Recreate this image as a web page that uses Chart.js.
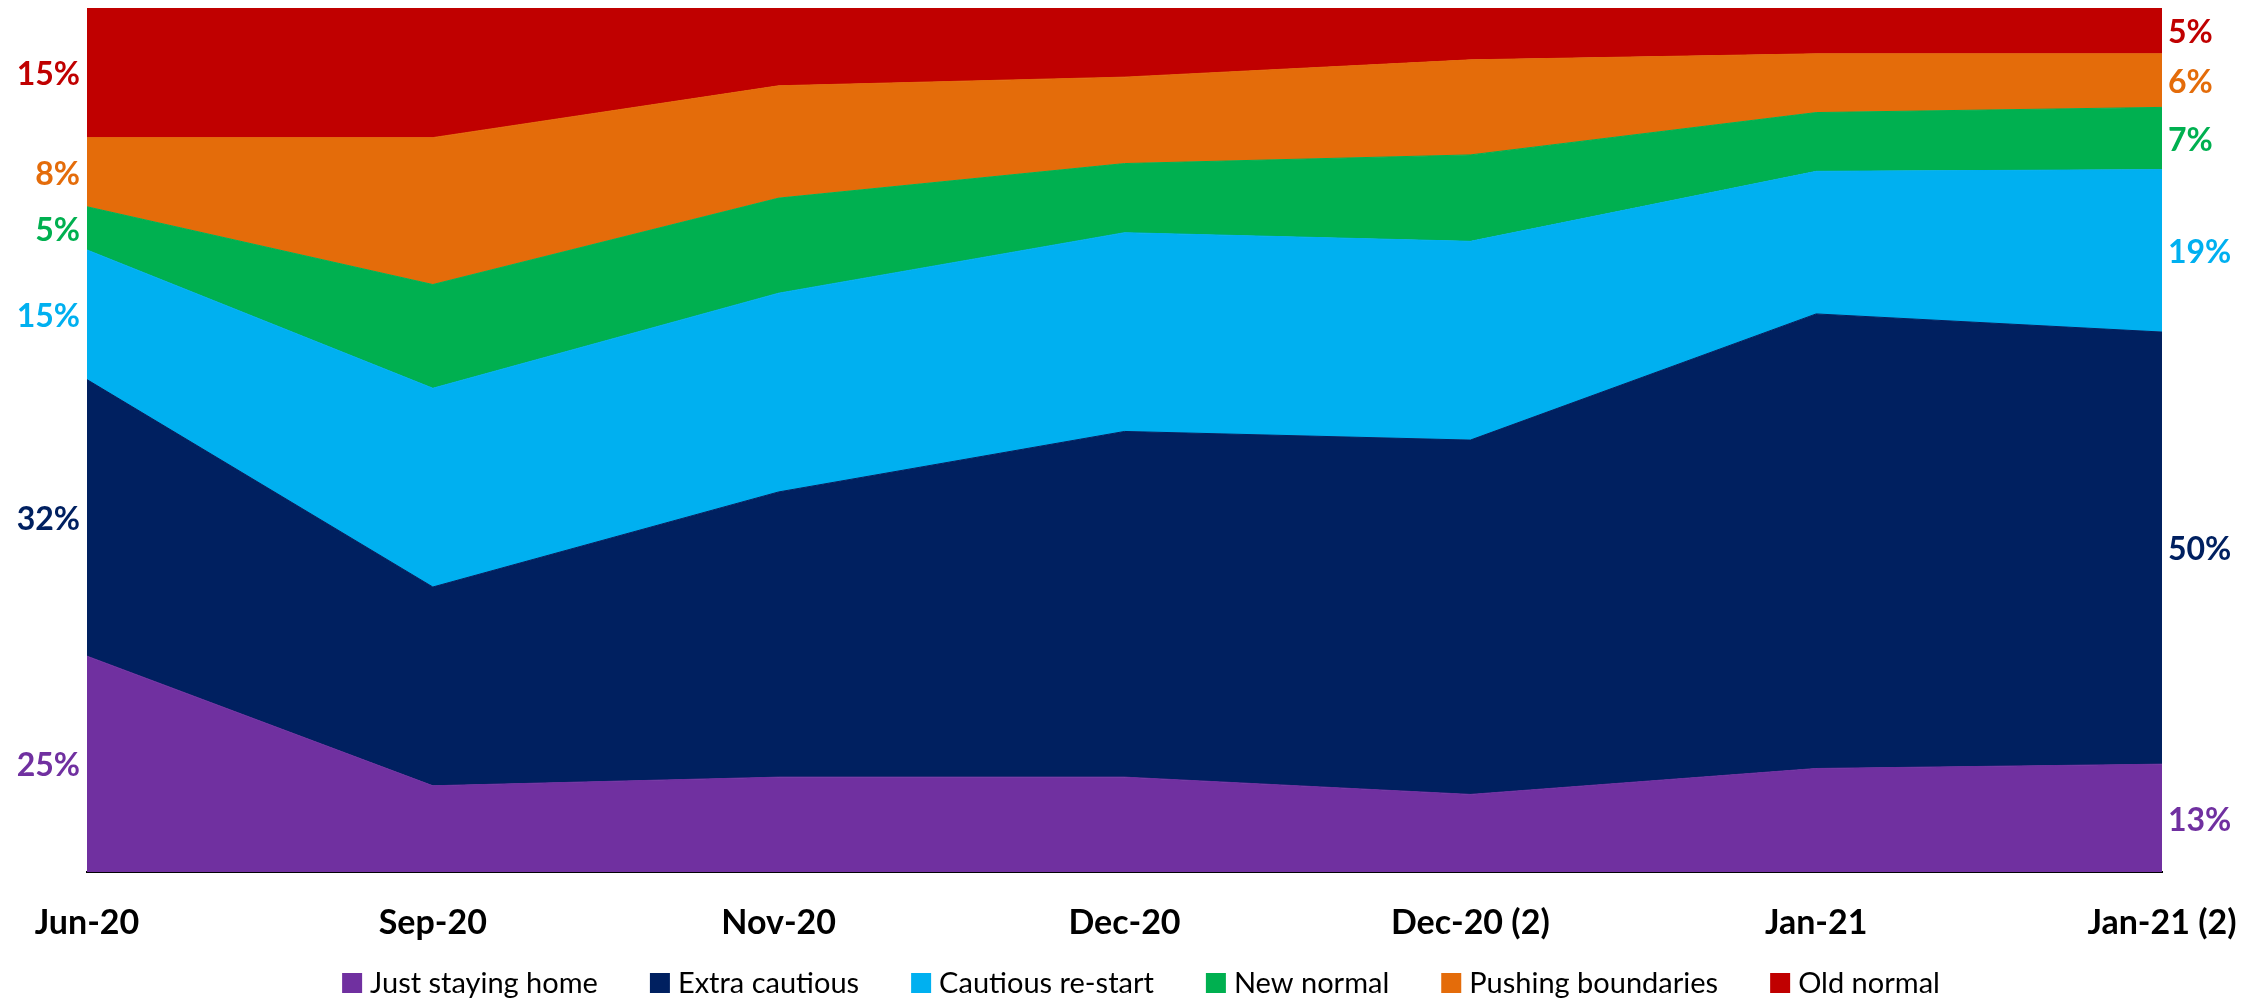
<!DOCTYPE html>
<html>
<head>
<meta charset="utf-8">
<script src="https://cdn.jsdelivr.net/npm/chart.js@4.4.1/dist/chart.umd.min.js"></script>
<style>
  html, body { margin: 0; padding: 0; background: #fff; }
  #wrap { width: 2241px; height: 1003px; position: relative; }
</style>
</head>
<body>
<div id="wrap"><canvas id="c" width="2241" height="1003"></canvas></div>
<script>
const categories = ['Jun-20', 'Sep-20', 'Nov-20', 'Dec-20', 'Dec-20 (2)', 'Jan-21', 'Jan-21 (2)'];
const seriesNames = ['Just staying home', 'Extra cautious', 'Cautious re-start', 'New normal', 'Pushing boundaries', 'Old normal'];
const justStayingHome   = [25, 10, 11, 11,  9, 12,   12.5];
const extraCautious     = [32, 23, 33, 40, 41, 52.6, 50];
const cautiousRestart   = [15, 23, 23, 23, 23, 16.5, 18.8];
const newNormal         = [ 5, 12, 11,  8, 10,  6.8,  7.2];
const pushingBoundaries = [ 8, 17, 13, 10, 11,  6.8,  6.2];
const oldNormal         = [15, 15,  9,  8,  6,  5.3,  5.3];
const seriesColors = ['#7030A0', '#002060', '#00B0F0', '#00B050', '#E46C0A', '#C00000'];

const seriesValues = [justStayingHome, extraCautious, cautiousRestart, newNormal, pushingBoundaries, oldNormal];

const FONT = 'Lato, "Open Sans", sans-serif';

const datasets = seriesValues.map((vals, i) => ({
  label: seriesNames[i],
  data: vals,
  backgroundColor: seriesColors[i],
  borderColor: seriesColors[i],
  borderWidth: 1,
  pointRadius: 0,
  pointHoverRadius: 0,
  tension: 0,
  fill: i === 0 ? 'origin' : '-1'
}));

const endLabels = {
  id: 'endLabels',
  afterDatasetsDraw(chart) {
    const ctx = chart.ctx;
    const y = chart.scales.y;
    const area = chart.chartArea;
    const last = categories.length - 1;
    ctx.save();
    ctx.font = 'bold 32px ' + FONT;
    ctx.textBaseline = 'middle';
    [0, last].forEach(idx => {
      let cum = 0;
      seriesValues.forEach((vals, i) => {
        const v = vals[idx];
        const yb = y.getPixelForValue(cum);
        const yt = y.getPixelForValue(cum + v);
        cum += v;
        const yc = (yb + yt) / 2 + 2;
        ctx.fillStyle = seriesColors[i];
        const txt = Math.round(v) + '%';
        if (idx === 0) {
          ctx.textAlign = 'right';
          ctx.fillText(txt, area.left - 7, yc);
        } else {
          ctx.textAlign = 'left';
          ctx.fillText(txt, area.right + 6, yc);
        }
      });
    });
    ctx.restore();
  }
};

const bottomLegend = {
  id: 'bottomLegend',
  afterDraw(chart) {
    const ctx = chart.ctx;
    ctx.save();
    ctx.font = '29px ' + FONT;
    ctx.textBaseline = 'middle';
    ctx.textAlign = 'left';
    const box = 20, gapText = 8, gapItem = 52;
    const widths = seriesNames.map(n => ctx.measureText(n).width);
    let total = 0;
    widths.forEach((w, i) => { total += box + gapText + w + (i < widths.length - 1 ? gapItem : 0); });
    const cx = 1141, cy = 983;
    let x = cx - total / 2;
    seriesNames.forEach((n, i) => {
      ctx.fillStyle = seriesColors[i];
      ctx.fillRect(x, cy - box / 2, box, box);
      ctx.fillStyle = '#000';
      ctx.fillText(n, x + box + gapText, cy + 1);
      x += box + gapText + widths[i] + gapItem;
    });
    ctx.restore();
  }
};

new Chart(document.getElementById('c'), {
  type: 'line',
  data: { labels: categories, datasets },
  options: {
    responsive: false,
    animation: false,
    layout: { padding: { left: 87, right: 79, top: 8, bottom: 30 } },
    plugins: {
      legend: { display: false },
      tooltip: { enabled: false }
    },
    scales: {
      x: {
        offset: false,
        grid: { display: false, drawTicks: false },
        border: { display: true, color: '#000', width: 2 },
        ticks: {
          color: '#000',
          font: { family: FONT, size: 34, weight: 'bold' },
          padding: 30,
          autoSkip: false,
          maxRotation: 0,
          minRotation: 0
        },
        afterFit(axis) {
          axis.paddingLeft = 0;
          axis.paddingRight = 0;
        }
      },
      y: {
        display: false,
        stacked: true,
        min: 0,
        max: 100
      }
    }
  },
  plugins: [endLabels, bottomLegend]
});
</script>
</body>
</html>
